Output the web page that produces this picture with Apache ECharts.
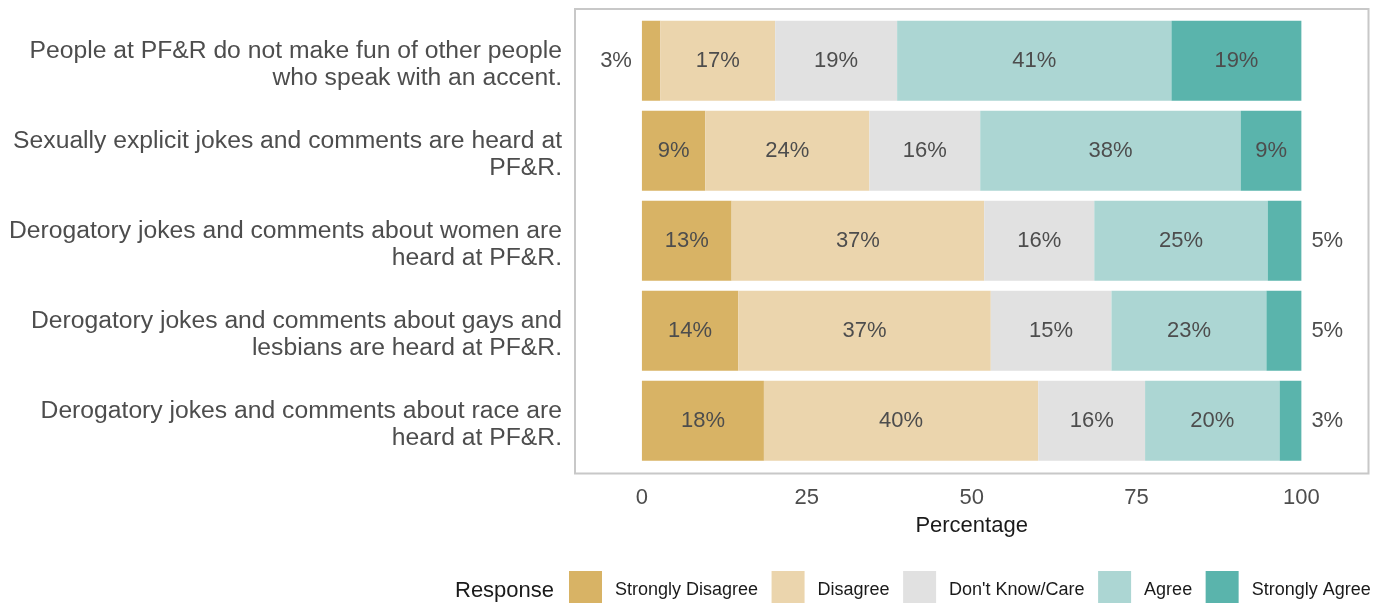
<!DOCTYPE html>
<html>
<head>
<meta charset="utf-8">
<script src="https://cdn.jsdelivr.net/npm/echarts@6/dist/echarts.min.js"></script>
<style>
  html, body { margin: 0; padding: 0; background: #ffffff; }
  #chart { width: 1387px; height: 604px; }
</style>
</head>
<body>
<div id="chart"></div>
<script>
// ---- data ----
const categories = [
  "People at PF&R do not make fun of other people\nwho speak with an accent.",
  "Sexually explicit jokes and comments are heard at\nPF&R.",
  "Derogatory jokes and comments about women are\nheard at PF&R.",
  "Derogatory jokes and comments about gays and\nlesbians are heard at PF&R.",
  "Derogatory jokes and comments about race are\nheard at PF&R."
];
const responses = ["Strongly Disagree", "Disagree", "Don't Know/Care", "Agree", "Strongly Agree"];
const stronglyDisagree = [2.8, 9.6, 13.6, 14.6, 18.5];
const disagree         = [17.4, 24.9, 38.3, 38.3, 41.6];
const dontKnow         = [18.5, 16.8, 16.7, 18.3, 16.2];
const agree            = [41.6, 39.5, 26.3, 23.5, 20.4];
const stronglyAgree    = [19.7, 9.2, 5.1, 5.3, 3.3];
const labelsSD = ["3%", "9%", "13%", "14%", "18%"];
const labelsD  = ["17%", "24%", "37%", "37%", "40%"];
const labelsDK = ["19%", "16%", "16%", "15%", "16%"];
const labelsA  = ["41%", "38%", "25%", "23%", "20%"];
const labelsSA = ["19%", "9%", "5%", "5%", "3%"];
const xTicks = [0, 25, 50, 75, 100];
const colors = ["#D8B365", "#EBD5AD", "#E1E1E1", "#ACD6D3", "#5AB4AC"];

const seriesValues = [stronglyDisagree, disagree, dontKnow, agree, stronglyAgree];
const seriesLabels = [labelsSD, labelsD, labelsDK, labelsA, labelsSA];

const textGray = "#4d4d4d";
const font = 'Liberation Sans, Arial, sans-serif';

const series = responses.map((name, si) => ({
  name: name,
  type: 'bar',
  stack: 'total',
  barWidth: 80,
  itemStyle: { color: colors[si] },
  emphasis: { disabled: true },
  data: seriesValues[si].map((v, i) => {
    const outside = v < 6 && (si === 0 || si === responses.length - 1);
    return {
      value: v,
      label: {
        show: true,
        position: outside ? (si === 0 ? 'left' : 'right') : 'inside',
        distance: 10,
        formatter: seriesLabels[si][i],
        color: textGray,
        fontSize: 22,
        fontFamily: font
      }
    };
  })
}));

function wrapRich(text, style) {
  return '{s| }\n' + text.split('\n').map(l => '{' + style + '|' + l + '}').join('\n');
}

const chart = echarts.init(document.getElementById('chart'), null, { renderer: 'canvas' });
chart.setOption({
  animation: false,
  backgroundColor: '#ffffff',
  textStyle: { fontFamily: font },
  title: {
    text: 'Response',
    left: 450,
    top: 575,
    textStyle: { fontSize: 22, fontWeight: 'normal', color: '#1a1a1a', fontFamily: font }
  },
  legend: {
    left: 569,
    top: 571,
    padding: 0,
    icon: 'rect',
    itemWidth: 33,
    itemHeight: 32,
    itemGap: 13.5,
    selectedMode: false,
    data: responses,
    formatter: name => wrapRich(name, 't'),
    textStyle: {
      fontSize: 18, color: '#1a1a1a', padding: [0, 0, 0, 8], fontFamily: font,
      rich: {
        s: { fontSize: 1, lineHeight: 7 },
        t: { fontSize: 18, color: '#1a1a1a', fontFamily: font, lineHeight: 22 }
      }
    }
  },
  graphic: [{
    type: 'rect',
    z: 100,
    silent: true,
    shape: { x: 575, y: 9, width: 793.5, height: 464.5 },
    style: { fill: null, stroke: '#c8c8c8', lineWidth: 2 }
  }],
  grid: {
    left: 574,
    right: 17.7,
    top: 15.85,
    height: 450,
    containLabel: false
  },
  xAxis: {
    type: 'value',
    min: -10.3,
    max: 110.3,
    axisLine: { show: false },
    axisTick: { show: false },
    splitLine: { show: false },
    axisLabel: {
      customValues: xTicks,
      fontSize: 22,
      color: textGray,
      margin: 21
    },
    name: 'Percentage',
    nameLocation: 'middle',
    nameGap: 49,
    nameTextStyle: { fontSize: 22, color: '#1a1a1a' }
  },
  yAxis: {
    type: 'category',
    inverse: true,
    data: categories,
    axisLine: { show: false },
    axisTick: { show: false },
    splitLine: { show: false },
    axisLabel: {
      fontSize: 24.7,
      lineHeight: 26.5,
      color: textGray,
      align: 'right',
      margin: 12,
      formatter: v => wrapRich(v, 'c'),
      rich: {
        s: { fontSize: 1, lineHeight: 8 },
        c: { fontSize: 24.7, lineHeight: 26.5, color: textGray, fontFamily: font, align: 'right' }
      }
    }
  },
  series: series
});
</script>
</body>
</html>
